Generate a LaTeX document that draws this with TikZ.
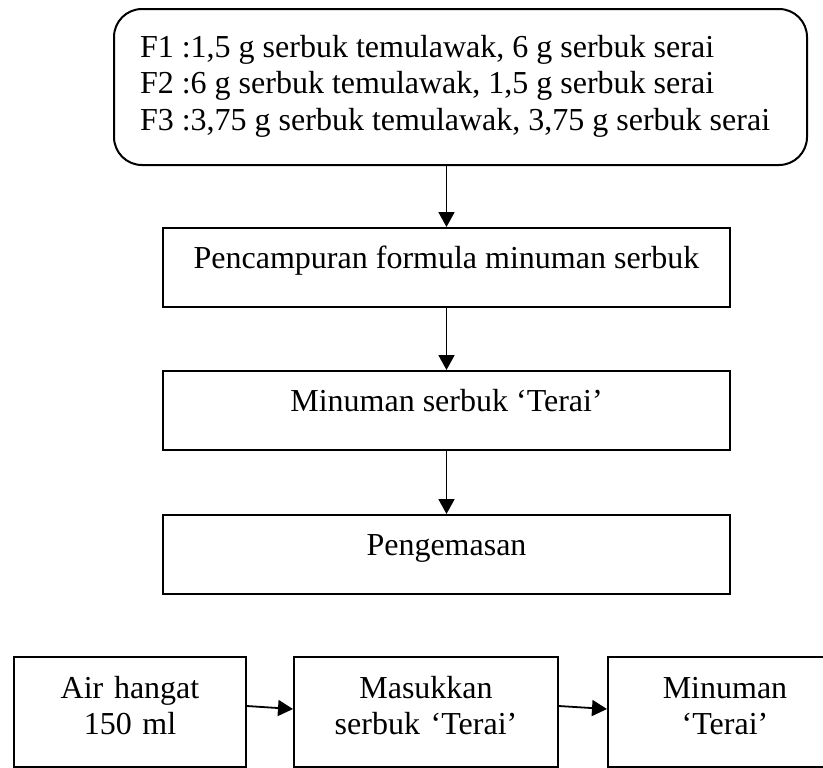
\documentclass[tikz,border=0pt]{standalone}
\usepackage{fontspec}
\setmainfont{Liberation Serif}
\usetikzlibrary{positioning,arrows.meta}

\tikzset{
  procbox/.style={draw, line width=1pt, rectangle, inner xsep=0pt, inner ysep=0pt,
    minimum width=283.5pt, minimum height=39.5pt, text height=20pt, text depth=19.5pt, align=center},
  stepbox/.style={draw, line width=1pt, rectangle, inner sep=0pt,
    minimum height=55pt, text height=20.5pt, text depth=34.5pt, align=center},
  flow/.style={-{Triangle[length=7.5pt,width=8pt]}, line width=0.9pt},
}

\begin{document}
\begin{tikzpicture}[x=0.5pt, y=-0.5pt, font=\fontsize{16pt}{18.4pt}\selectfont]
  \useasboundingbox (0,0) rectangle (823,767);
  \clip (0,0) rectangle (823,767);

  % Formula composition (rounded box)
  \node[draw, line width=1pt, rounded corners=14pt, anchor=north west, inner xsep=13pt, inner ysep=0pt,
    text width=320.5pt, text height=24pt, text depth=54pt, align=flush left] (formula) at (113,8)
    {\mbox{F1 :1,5 g serbuk temulawak, 6 g serbuk serai}\\
     \mbox{F2 :6 g serbuk temulawak, 1,5 g serbuk serai}\\
     \mbox{F3 :3,75 g serbuk temulawak, 3,75 g serbuk serai}};

  % Processing steps (stacked vertically)
  \node[procbox, anchor=north] (mixing) at (446.5,227) {Pencampuran formula minuman serbuk};
  \node[procbox, below=31pt of mixing] (powder) {Minuman serbuk ‘Terai’};
  \node[procbox, below=31.5pt of powder] (packing) {Pengemasan};

  % Serving (horizontal row)
  \node[stepbox, anchor=north west, text width=116pt] (water) at (13,656) {Air hangat\\150 ml};
  \node[stepbox, text width=132pt, right=23pt of water] (adding) {Masukkan\\serbuk ‘Terai’};
  \node[stepbox, text width=117pt, right=24pt of adding] (drink) {Minuman\\‘Terai’};

  % Arrows down the process
  \draw[flow] (formula.south -| mixing.north) -- (mixing.north);
  \draw[flow] (mixing) -- (powder);
  \draw[flow] (powder) -- (packing);

  % Arrows along the serving row
  \draw[flow] ([yshift=3pt]water.east) -- ([yshift=1.5pt]adding.west);
  \draw[flow] ([yshift=3pt]adding.east) -- ([yshift=1.5pt]drink.west);
\end{tikzpicture}
\end{document}
